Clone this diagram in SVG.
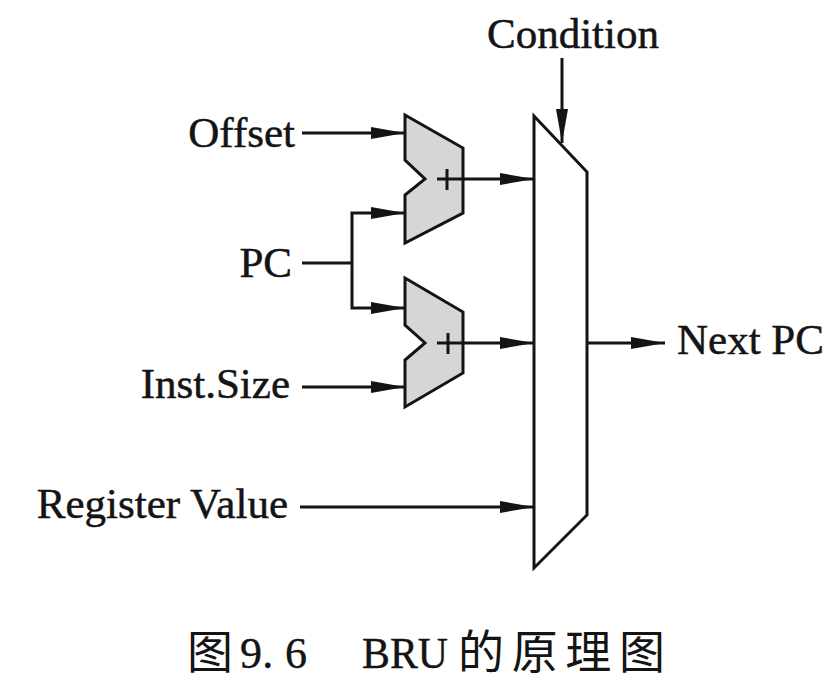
<svg xmlns="http://www.w3.org/2000/svg" width="837" height="695" viewBox="0 0 837 695">
<style>
.lbl{font-family:"Liberation Serif","Times New Roman",serif;font-size:43px;fill:#141414;stroke:#141414;stroke-width:0.5}
.cap{font-family:"Liberation Serif","Times New Roman",serif;font-size:44px;fill:#141414;stroke:#141414;stroke-width:0.4}
.cjk{font-family:"Noto Sans CJK SC",sans-serif;font-size:46px;fill:#141414}
.w{fill:none;stroke:#141414;stroke-width:3;marker-end:url(#ah)}
.wn{fill:none;stroke:#141414;stroke-width:3}
.adder{fill:#d6d6d6;stroke:#141414;stroke-width:3;stroke-linejoin:miter}
.mux{fill:#ffffff;stroke:#141414;stroke-width:3}
</style>
<defs>
<marker id="ah" markerUnits="userSpaceOnUse" markerWidth="36" markerHeight="14" refX="34" refY="7" orient="auto">
<path d="M0,1 L34,7 L0,13 z" fill="#141414"/>
</marker>
</defs>
<rect width="837" height="695" fill="#ffffff"/>
<g id="mux">
<polygon class="mux" points="534,116 587,172 587,515 534,568"/>
</g>
<g id="adder1">
<polygon class="adder" points="405,115 463,148 463,213 405,243 405,195 425,179 405,160"/>
<line class="wn" x1="447" y1="169" x2="447" y2="190"/>
<line class="wn" x1="437" y1="179" x2="463" y2="179"/>
</g>
<g id="adder2">
<polygon class="adder" points="405,278 463,312 463,373 405,407 405,360 425,343 405,325"/>
<line class="wn" x1="448" y1="333" x2="448" y2="354"/>
<line class="wn" x1="437" y1="343" x2="463" y2="343"/>
</g>
<g id="labels">
<text class="lbl" x="573" y="48" text-anchor="middle">Condition</text>
<text class="lbl" x="295" y="147" text-anchor="end">Offset</text>
<text class="lbl" x="292" y="277" text-anchor="end">PC</text>
<text class="lbl" x="290" y="398" text-anchor="end">Inst.Size</text>
<text class="lbl" x="288" y="518" text-anchor="end">Register Value</text>
<text class="lbl" x="677" y="354">Next PC</text>
</g>
<g id="connectors">
<line class="w" x1="562" y1="58" x2="562" y2="143"/>
<line class="w" x1="302" y1="133" x2="405" y2="133"/>
<polyline class="wn" points="302,263 352,263"/>
<polyline class="w" points="352,263 352,213 405,213"/>
<polyline class="w" points="352,263 352,308 405,308"/>
<line class="w" x1="302" y1="387" x2="405" y2="387"/>
<line class="w" x1="463" y1="179" x2="534" y2="179"/>
<line class="w" x1="463" y1="343" x2="534" y2="343"/>
<line class="w" x1="300" y1="507" x2="534" y2="507"/>
<line class="w" x1="587" y1="343" x2="665" y2="343"/>
</g>
<g id="caption">
<text class="cjk" x="187" y="668">图</text>
<text class="cap" x="240" y="668" textLength="67" lengthAdjust="spacing">9. 6</text>
<text class="cap" x="362" y="668" textLength="86" lengthAdjust="spacingAndGlyphs">BRU</text>
<text class="cjk" x="458" y="668" textLength="207" lengthAdjust="spacing">的原理图</text>
</g>
</svg>
